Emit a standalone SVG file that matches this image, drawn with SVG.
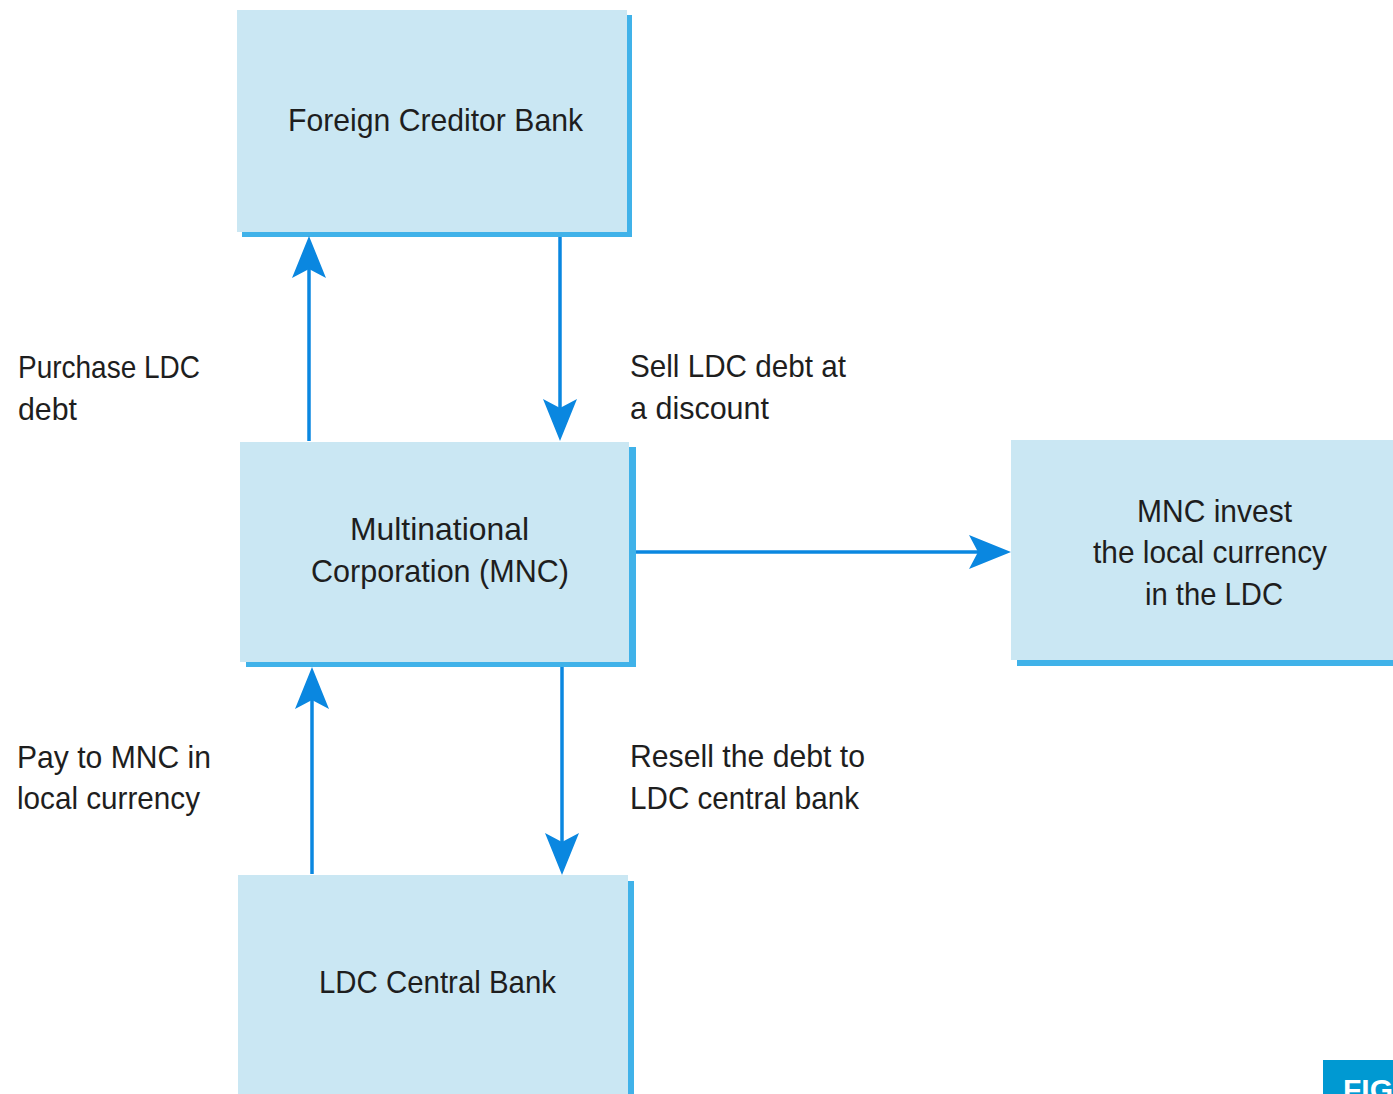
<svg xmlns="http://www.w3.org/2000/svg" width="1393" height="1094" viewBox="0 0 1393 1094">
<style>
.shadow{fill:#40b2e9;}
.box{fill:#cae7f3;}
.t{font-family:"Liberation Sans",Arial,sans-serif;font-size:32px;fill:#1e1e1e;}
.conn{stroke:#0a87e0;stroke-width:3.5;fill:none;marker-end:url(#ah);}
</style>
<defs>
<marker id="ah" markerUnits="userSpaceOnUse" viewBox="-43 -18 44 36" markerWidth="44" markerHeight="36" refX="-33" refY="0" orient="auto">
<path d="M0,0 L-42,-17 L-33,0 L-42,17 Z" fill="#0a87e0"/>
</marker>
</defs>
<rect width="1393" height="1094" fill="#ffffff"/>
<g id="node-foreign-creditor-bank">
<rect class="shadow" x="242" y="15" width="390" height="222"/>
<rect class="box" x="237" y="10" width="390" height="222"/>
<text class="t" x="288" y="131" textLength="295" lengthAdjust="spacingAndGlyphs">Foreign Creditor Bank</text>
</g>
<g id="node-mnc">
<rect class="shadow" x="246" y="447" width="390" height="220"/>
<rect class="box" x="240" y="442" width="389" height="220"/>
<text class="t" x="350" y="540" textLength="179" lengthAdjust="spacingAndGlyphs">Multinational</text>
<text class="t" x="311" y="582" textLength="258" lengthAdjust="spacingAndGlyphs">Corporation (MNC)</text>
</g>
<g id="node-mnc-invest">
<rect class="shadow" x="1017" y="445" width="400" height="221"/>
<rect class="box" x="1011" y="440" width="400" height="220"/>
<text class="t" x="1137" y="522" textLength="155" lengthAdjust="spacingAndGlyphs">MNC invest</text>
<text class="t" x="1093" y="563" textLength="234" lengthAdjust="spacingAndGlyphs">the local currency</text>
<text class="t" x="1145" y="605" textLength="138" lengthAdjust="spacingAndGlyphs">in the LDC</text>
</g>
<g id="node-ldc-central-bank">
<rect class="shadow" x="244" y="881" width="390" height="230"/>
<rect class="box" x="238" y="875" width="390" height="230"/>
<text class="t" x="319" y="993" textLength="237" lengthAdjust="spacingAndGlyphs">LDC Central Bank</text>
</g>
<g id="connectors">
<line class="conn" x1="309" y1="441" x2="309" y2="269"/>
<line class="conn" x1="560" y1="237" x2="560" y2="408"/>
<line class="conn" x1="636" y1="552" x2="978" y2="552"/>
<line class="conn" x1="312" y1="874" x2="312" y2="700"/>
<line class="conn" x1="562" y1="667" x2="562" y2="842"/>
</g>
<g id="labels">
<text class="t" x="18" y="378" textLength="182" lengthAdjust="spacingAndGlyphs">Purchase LDC</text>
<text class="t" x="18" y="420" textLength="59" lengthAdjust="spacingAndGlyphs">debt</text>
<text class="t" x="630" y="377" textLength="216" lengthAdjust="spacingAndGlyphs">Sell LDC debt at</text>
<text class="t" x="630" y="419" textLength="139" lengthAdjust="spacingAndGlyphs">a discount</text>
<text class="t" x="17" y="768" textLength="194" lengthAdjust="spacingAndGlyphs">Pay to MNC in</text>
<text class="t" x="17" y="809" textLength="183" lengthAdjust="spacingAndGlyphs">local currency</text>
<text class="t" x="630" y="767" textLength="235" lengthAdjust="spacingAndGlyphs">Resell the debt to</text>
<text class="t" x="630" y="809" textLength="229" lengthAdjust="spacingAndGlyphs">LDC central bank</text>
</g>
<g id="fig-tab">
<rect x="1323" y="1060" width="80" height="40" fill="#0099d2"/>
<text x="1343" y="1100" font-family="Liberation Sans, Arial, sans-serif" font-size="30" font-weight="bold" fill="#ffffff">FIG</text>
</g>
</svg>
